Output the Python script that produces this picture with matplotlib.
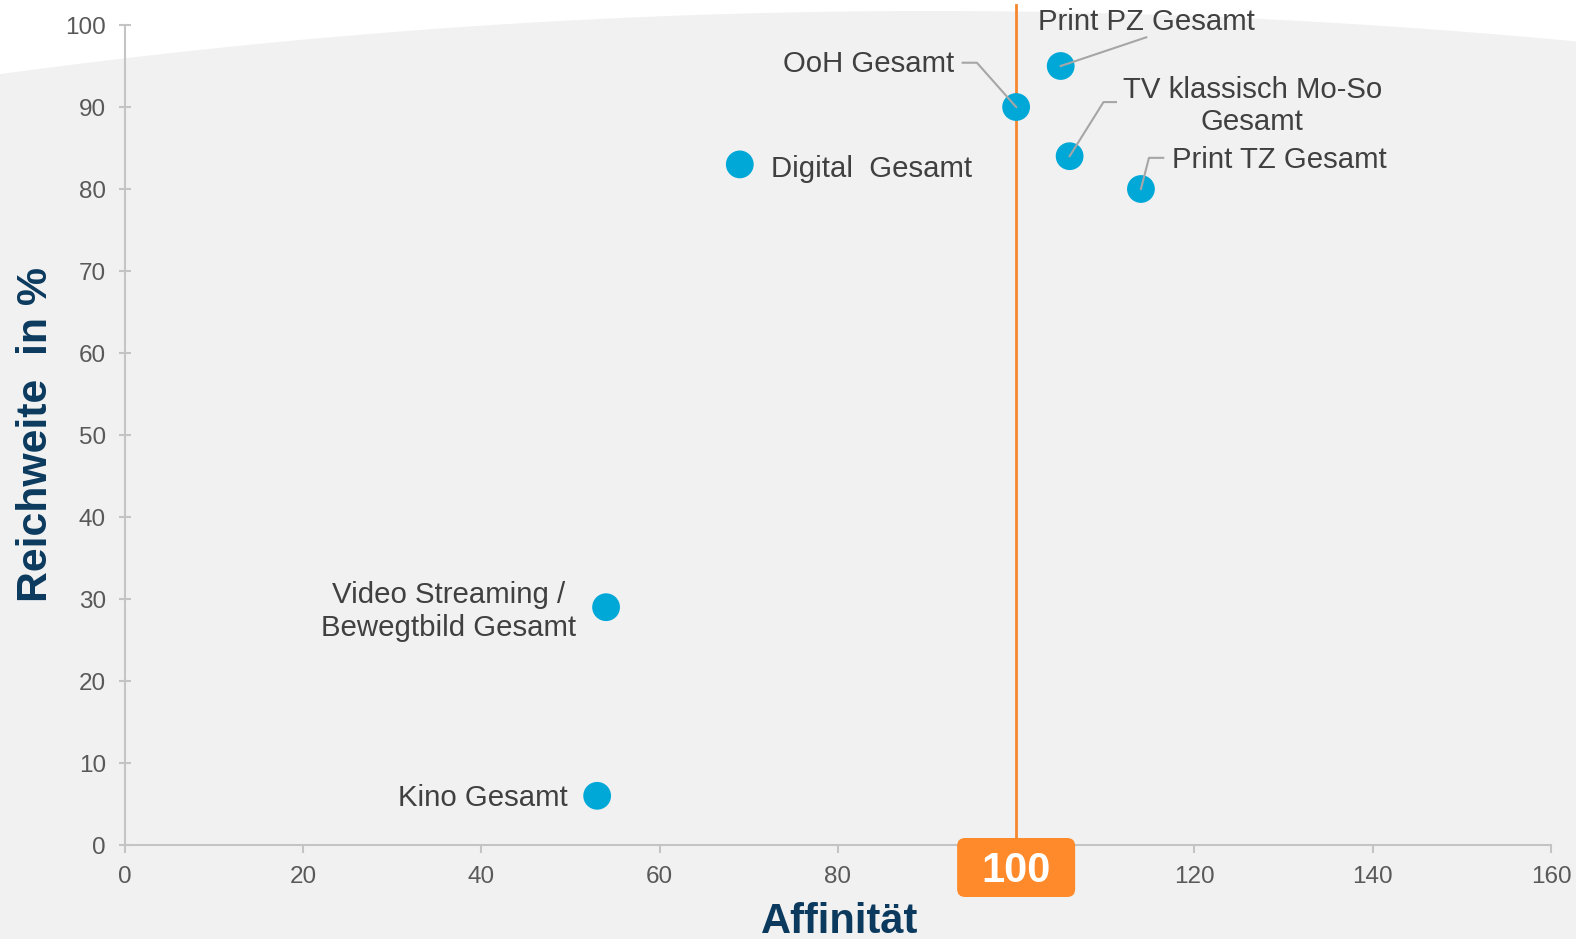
import numpy as np
import matplotlib
matplotlib.use("Agg")
import matplotlib.pyplot as plt
from matplotlib.patches import Polygon, FancyBboxPatch
from matplotlib.transforms import ScaledTranslation

# ---------------- data ----------------
labels = ["Print PZ Gesamt", "OoH Gesamt", "TV klassisch Mo-So\nGesamt", "Print TZ Gesamt",
          "Digital  Gesamt", "Video Streaming /\nBewegtbild Gesamt", "Kino Gesamt"]
affinity = [105, 100, 106, 114, 69, 54, 53]
reach = [95, 90, 84, 80, 83, 29, 6]
x_ticks = [0, 20, 40, 60, 80, 100, 120, 140, 160]
x_tick_labels = ["0", "20", "40", "60", "80", "", "120", "140", "160"]  # 100 is shown by the badge
y_ticks = [0, 10, 20, 30, 40, 50, 60, 70, 80, 90, 100]
ref_affinity = 100

# label placement (offsets from point in data units), alignment, leader elbows
label_style = [
    dict(dx=9.6, dy=5.4, ha="center", va="center", leader=[(9.6, 3.5)]),
    dict(dx=-6.9, dy=5.2, ha="right", va="center", leader=[(-4.4, 5.4), (-6.0, 5.4)]),
    dict(dx=20.5, dy=6.1, ha="center", va="center", leader=[(3.8, 6.6), (5.2, 6.6)]),
    dict(dx=3.5, dy=3.5, ha="left", va="center", leader=[(0.9, 3.8), (2.5, 3.8)]),
    dict(dx=3.5, dy=-0.5, ha="left", va="center", leader=None),
    dict(dx=-17.7, dy=-0.5, ha="center", va="center", leader=None),
    dict(dx=-3.3, dy=-0.3, ha="right", va="center", leader=None),
]

# ---------------- style ----------------
W, H = 1576, 939
plt.rcParams["font.family"] = ["Liberation Sans", "DejaVu Sans"]
bg = "#f1f1f1"
point_c = "#00a8d8"
text_c = "#404040"
tick_c = "#595959"
navy = "#0b3a5e"
orange = "#ff8a2b"
line_orange = "#f7872e"
spine_c = "#c4c4c4"
leader_c = "#a6a6a6"

fig = plt.figure(figsize=(W / 100, H / 100), dpi=100)
fig.patch.set_facecolor(bg)

# white arc at the top of the background
xs = np.linspace(0, W, 300)
ytop = 11 + 7.3e-5 * (xs - 930) ** 2
pts = [(x / W, 1 - y / H) for x, y in zip(xs, ytop)] + [(1, 1.01), (0, 1.01)]
fig.patches.append(Polygon(pts, closed=True, transform=fig.transFigure,
                           facecolor="white", edgecolor="none", zorder=-10))

ax = fig.add_axes([124.7 / W, 1 - 845 / H, (1551 - 124.7) / W, (845 - 25) / H])
ax.set_zorder(1)
ax.set_facecolor("none")
ax.set_xlim(0, 160)
ax.set_ylim(0, 100)
ax.set_xticks(x_ticks)
ax.set_xticklabels(x_tick_labels)
ax.set_yticks(y_ticks)
for s in ["top", "right"]:
    ax.spines[s].set_visible(False)
for s in ["left", "bottom"]:
    ax.spines[s].set_color(spine_c)
    ax.spines[s].set_linewidth(1.5)
ax.tick_params(axis="y", direction="inout", length=9, width=1.5, color=spine_c,
               labelcolor=tick_c, labelsize=17.5, pad=9)
ax.tick_params(axis="x", direction="out", length=6, width=1.5, color=spine_c,
               labelcolor=tick_c, labelsize=17.5, pad=9)

# reference line at affinity 100
ax.axvline(ref_affinity, ymin=0, ymax=1.025, color=line_orange, lw=2, clip_on=False, zorder=2)

# points
ax.scatter(affinity, reach, s=400, color=point_c, edgecolors="none", zorder=3, clip_on=False)

# labels and leader lines
for lab, x, y, st in zip(labels, affinity, reach, label_style):
    if st["leader"]:
        lx = [x] + [x + dx for dx, dy in st["leader"]]
        ly = [y] + [y + dy for dx, dy in st["leader"]]
        ax.plot(lx, ly, color=leader_c, lw=1.5, zorder=4, clip_on=False)
    ax.text(x + st["dx"], y + st["dy"], lab, ha=st["ha"], va=st["va"],
            multialignment="center", fontsize=21.2, color=text_c, linespacing=1.2,
            zorder=5, clip_on=False)

# badge "100" under the axis
trans = fig.dpi_scale_trans + ScaledTranslation(ref_affinity, 0, ax.transData)
badge = FancyBboxPatch((-0.59, -0.52), 1.18, 0.59,
                       boxstyle="round,pad=0,rounding_size=0.08",
                       facecolor=orange, edgecolor="none", transform=trans,
                       zorder=6, clip_on=False)
ax.add_patch(badge)
ax.text(0, -0.265, str(ref_affinity), transform=trans, ha="center", va="center",
        fontsize=30, fontweight="bold", color="white", zorder=7, clip_on=False)

# axis titles
ax.text(-0.0625, 0.5, "Reichweite  in %", transform=ax.transAxes, rotation=90,
        ha="center", va="center", fontsize=30.8, fontweight="bold", color=navy)
ax.text(0.501, -0.107, "Affinität", transform=ax.transAxes, ha="center",
        va="baseline", fontsize=30, fontweight="bold", color=navy)

fig.savefig("out.png", dpi=100, facecolor=fig.get_facecolor())
